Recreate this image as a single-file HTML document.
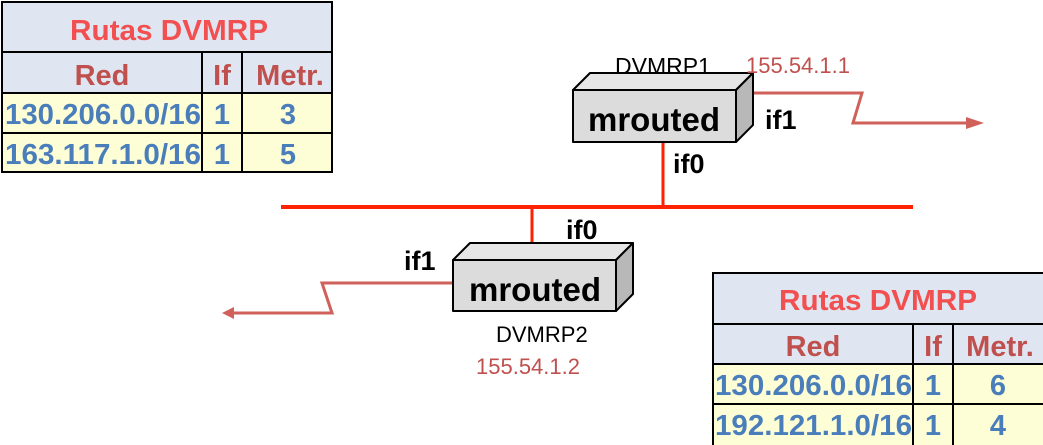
<!DOCTYPE html>
<html><head><style>
body{margin:0;background:#fff;}
svg{display:block;font-family:"Liberation Sans",Arial,sans-serif;font-weight:bold;}
</style></head><body>
<svg width="1043" height="445" viewBox="0 0 1043 445" xmlns="http://www.w3.org/2000/svg">
<!-- Table 1 -->
<rect x="2" y="2" width="330" height="50" fill="#dfe6f2"/>
<rect x="2" y="52" width="330" height="41" fill="#dfe6f2"/>
<rect x="2" y="93" width="330" height="79" fill="#fefed6"/>
<g stroke="#000" stroke-width="2" fill="none">
<rect x="2" y="2" width="330" height="170"/>
<line x1="2" y1="52" x2="332" y2="52"/>
<line x1="2" y1="93" x2="332" y2="93"/>
<line x1="2" y1="133" x2="332" y2="133"/>
<line x1="202" y1="52" x2="202" y2="172"/>
<line x1="242" y1="52" x2="242" y2="172"/>
</g>
<text x="70" y="40" font-size="29" fill="#f25050" textLength="198" lengthAdjust="spacingAndGlyphs">Rutas DVMRP</text>
<g font-size="29" fill="#c0504d" text-anchor="middle">
<text x="102" y="85">Red</text><text x="222" y="85">If</text><text x="290" y="85">Metr.</text></g>
<g font-size="29" fill="#4a7ebb">
<text x="5" y="124" textLength="196" lengthAdjust="spacingAndGlyphs">130.206.0.0/16</text>
<text x="5" y="164" textLength="196" lengthAdjust="spacingAndGlyphs">163.117.1.0/16</text></g>
<g font-size="29" fill="#4a7ebb" text-anchor="middle">
<text x="222" y="124">1</text><text x="288" y="124">3</text>
<text x="222" y="164">1</text><text x="288" y="164">5</text></g>

<!-- Table 2 -->
<rect x="713" y="273" width="340" height="51" fill="#dfe6f2"/>
<rect x="713" y="324" width="340" height="40" fill="#dfe6f2"/>
<rect x="713" y="364" width="340" height="90" fill="#fefed6"/>
<g stroke="#000" stroke-width="2" fill="none">
<rect x="713" y="273" width="340" height="190"/>
<line x1="713" y1="324" x2="1043" y2="324"/>
<line x1="713" y1="364" x2="1043" y2="364"/>
<line x1="713" y1="404" x2="1043" y2="404"/>
<line x1="913" y1="324" x2="913" y2="445"/>
<line x1="953" y1="324" x2="953" y2="445"/>
</g>
<text x="779" y="310" font-size="29" fill="#f25050" textLength="198" lengthAdjust="spacingAndGlyphs">Rutas DVMRP</text>
<g font-size="29" fill="#c0504d" text-anchor="middle">
<text x="813" y="356">Red</text><text x="933" y="356">If</text><text x="1000" y="356">Metr.</text></g>
<g font-size="29" fill="#4a7ebb">
<text x="715" y="395" textLength="197" lengthAdjust="spacingAndGlyphs">130.206.0.0/16</text>
<text x="715" y="435" textLength="197" lengthAdjust="spacingAndGlyphs">192.121.1.0/16</text></g>
<g font-size="29" fill="#4a7ebb" text-anchor="middle">
<text x="933" y="395">1</text><text x="998" y="395">6</text>
<text x="933" y="435">1</text><text x="998" y="435">4</text></g>

<!-- bus -->
<line x1="281" y1="207" x2="913" y2="207" stroke="#ff2200" stroke-width="4"/>
<line x1="663" y1="142" x2="663" y2="207" stroke="#ff2200" stroke-width="3"/>
<line x1="532" y1="207" x2="532" y2="243" stroke="#ff2200" stroke-width="3"/>

<!-- serial links -->
<g stroke="#d0605a" stroke-width="3" fill="none">
<polyline points="753,93 862,93 853,123 968,123"/>
<polyline points="453,283 322,283 332,313 232,313"/>
</g>
<polygon points="984,123 966,117 966,129" fill="#d0605a"/>
<polygon points="222,313 234,307 234,319" fill="#d0605a"/>

<!-- Router 1 -->
<g stroke="#000" stroke-width="2" stroke-linejoin="round">
<polygon points="573,90 590,73 753,73 736,90" fill="#e6e6e6"/>
<polygon points="736,90 753,73 753,125 736,142" fill="#b8b8b8"/>
<rect x="573" y="90" width="163" height="52" fill="#dcdcdc"/>
</g>
<text x="654" y="131" font-size="33" text-anchor="middle" fill="#000">mrouted</text>
<text x="615" y="74" font-size="23" font-weight="normal" fill="#000">DVMRP1</text>
<text x="746" y="73" font-size="22" font-weight="normal" fill="#c0504d">155.54.1.1</text>
<text x="765" y="129" font-size="27" fill="#000">if1</text>
<text x="673" y="173" font-size="27" fill="#000">if0</text>

<!-- Router 2 -->
<g stroke="#000" stroke-width="2" stroke-linejoin="round">
<polygon points="453,260 470,243 633,243 616,260" fill="#e6e6e6"/>
<polygon points="616,260 633,243 633,294 616,311" fill="#b8b8b8"/>
<rect x="453" y="260" width="163" height="51" fill="#dcdcdc"/>
</g>
<text x="535" y="301" font-size="33" text-anchor="middle" fill="#000">mrouted</text>
<text x="566" y="239" font-size="27" fill="#000">if0</text>
<text x="404" y="270" font-size="27" fill="#000">if1</text>
<text x="496" y="342" font-size="22" font-weight="normal" fill="#000">DVMRP2</text>
<text x="476" y="374" font-size="22" font-weight="normal" fill="#c0504d">155.54.1.2</text>
</svg>
</body></html>
